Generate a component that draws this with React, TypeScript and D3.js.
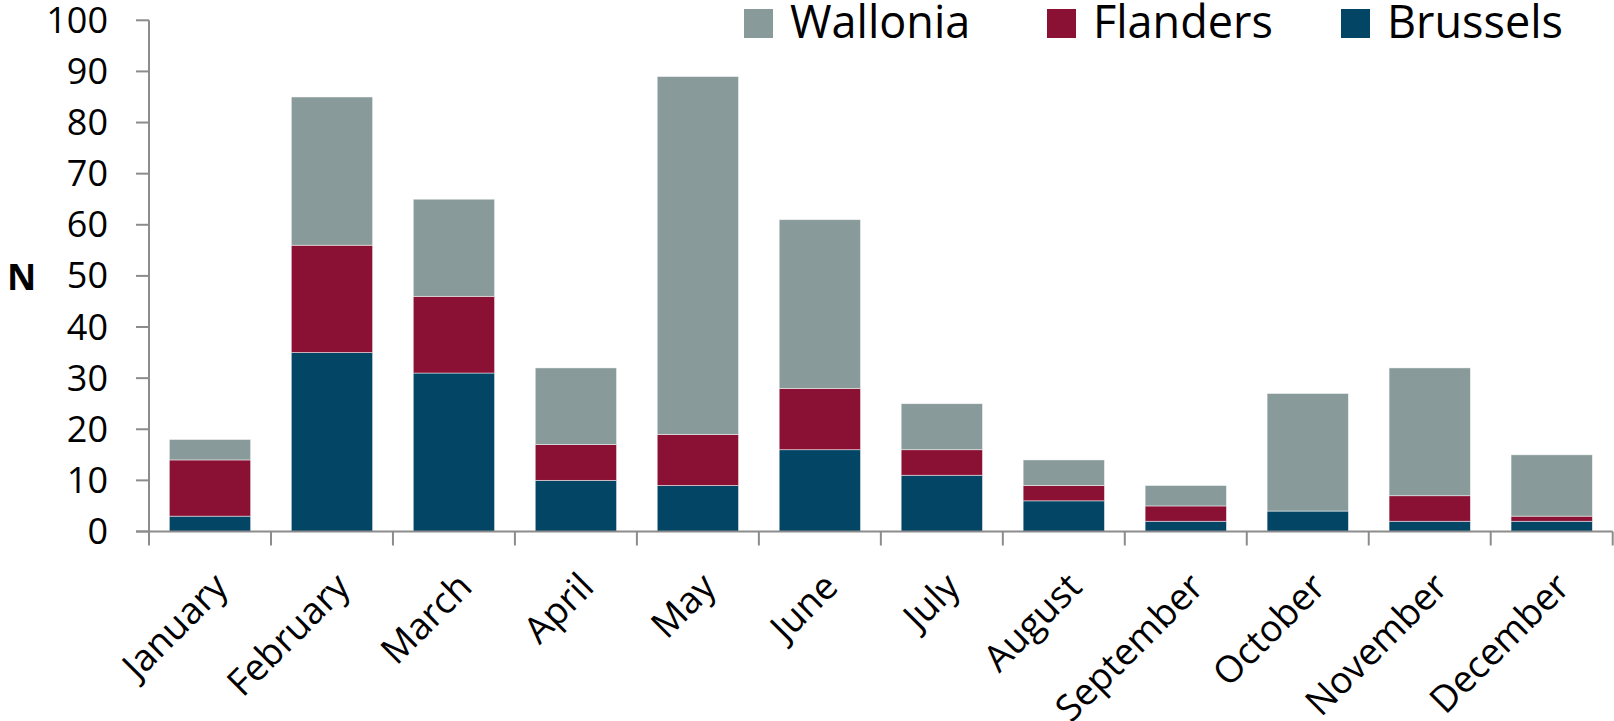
import React from "react";
import * as d3 from "d3";

const months = ["January","February","March","April","May","June","July","August","September","October","November","December"];
const brussels = [3, 35, 31, 10, 9, 16, 11, 6, 2, 4, 2, 2];
const flanders = [11, 21, 15, 7, 10, 12, 5, 3, 3, 0, 5, 1];
const wallonia = [4, 29, 19, 15, 70, 33, 9, 5, 4, 23, 25, 12];
const seriesNames = ["Brussels", "Flanders", "Wallonia"];
const seriesColors = ["#024564", "#8a1133", "#889a99"];
const yTicks = [0, 10, 20, 30, 40, 50, 60, 70, 80, 90, 100];
const legendOrder = ["Wallonia", "Flanders", "Brussels"];

const W = 1614, H = 721;
const FONT = "'Open Sans', 'Noto Sans', sans-serif";

export default function App() {
  const x = d3.scaleBand<string>().domain(months).range([149, 1612.7]).paddingInner(1 / 3).paddingOuter(1 / 6);
  const xb = d3.scaleBand<string>().domain(months).range([149, 1612.7]);
  const y = d3.scaleLinear().domain([0, 100]).range([531.5, 20.3]);
  const rows = months.map((m, i) => ({ month: m, Brussels: brussels[i], Flanders: flanders[i], Wallonia: wallonia[i] }));
  const stack = d3.stack<any>().keys(seriesNames)(rows);
  const color = d3.scaleOrdinal<string, string>().domain(seriesNames).range(seriesColors);
  const legendX = [744, 1047, 1341];

  return (
    <svg width={W} height={H} style={{ position: "absolute", left: 0, top: 0, background: "#fff" }} fontFamily={FONT}>
      {stack.map((s) => (
        <g key={s.key} fill={color(s.key)}>
          {s.map((d, i) => (
            d[1] - d[0] > 0 ? (
              <rect key={i} x={x(months[i])} y={y(d[1])} width={x.bandwidth()} height={y(d[0]) - y(d[1])}
                stroke="#ffffff" strokeOpacity={0.6} strokeWidth={0.8} />
            ) : null
          ))}
        </g>
      ))}
      {/* y axis */}
      <line x1={149} x2={149} y1={y(100)} y2={y(0)} stroke="#8c8c8c" strokeWidth={2} />
      {yTicks.map((t) => (
        <g key={t}>
          <line x1={136} x2={149} y1={y(t)} y2={y(t)} stroke="#8c8c8c" strokeWidth={2} />
          <text x={108} y={y(t) + 12.5} textAnchor="end" fontSize={36} fill="#000">{t}</text>
        </g>
      ))}
      {/* x axis */}
      <line x1={136} x2={1612.7} y1={y(0)} y2={y(0)} stroke="#8c8c8c" strokeWidth={2} />
      {months.map((m) => (
        <line key={m} x1={xb(m)} x2={xb(m)} y1={y(0)} y2={y(0) + 14} stroke="#8c8c8c" strokeWidth={2} />
      ))}
      <line x1={1612.7} x2={1612.7} y1={y(0)} y2={y(0) + 14} stroke="#8c8c8c" strokeWidth={2} />
      {months.map((m) => {
        const cx = (xb(m) as number) + xb.bandwidth() / 2 + 20;
        const cy = 589;
        return (
          <text key={m} x={cx} y={cy} textAnchor="end" fontSize={37} fill="#000" transform={`rotate(-45 ${cx} ${cy})`}>{m}</text>
        );
      })}
      <text x={7} y={290} fontSize={36} fontWeight="bold" fill="#000">N</text>
      {legendOrder.map((k, i) => (
        <g key={k}>
          <rect x={legendX[i]} y={9} width={29} height={29} fill={color(k)} />
          <text x={legendX[i] + 46} y={38} fontSize={45} fill="#000">{k}</text>
        </g>
      ))}
    </svg>
  );
}
